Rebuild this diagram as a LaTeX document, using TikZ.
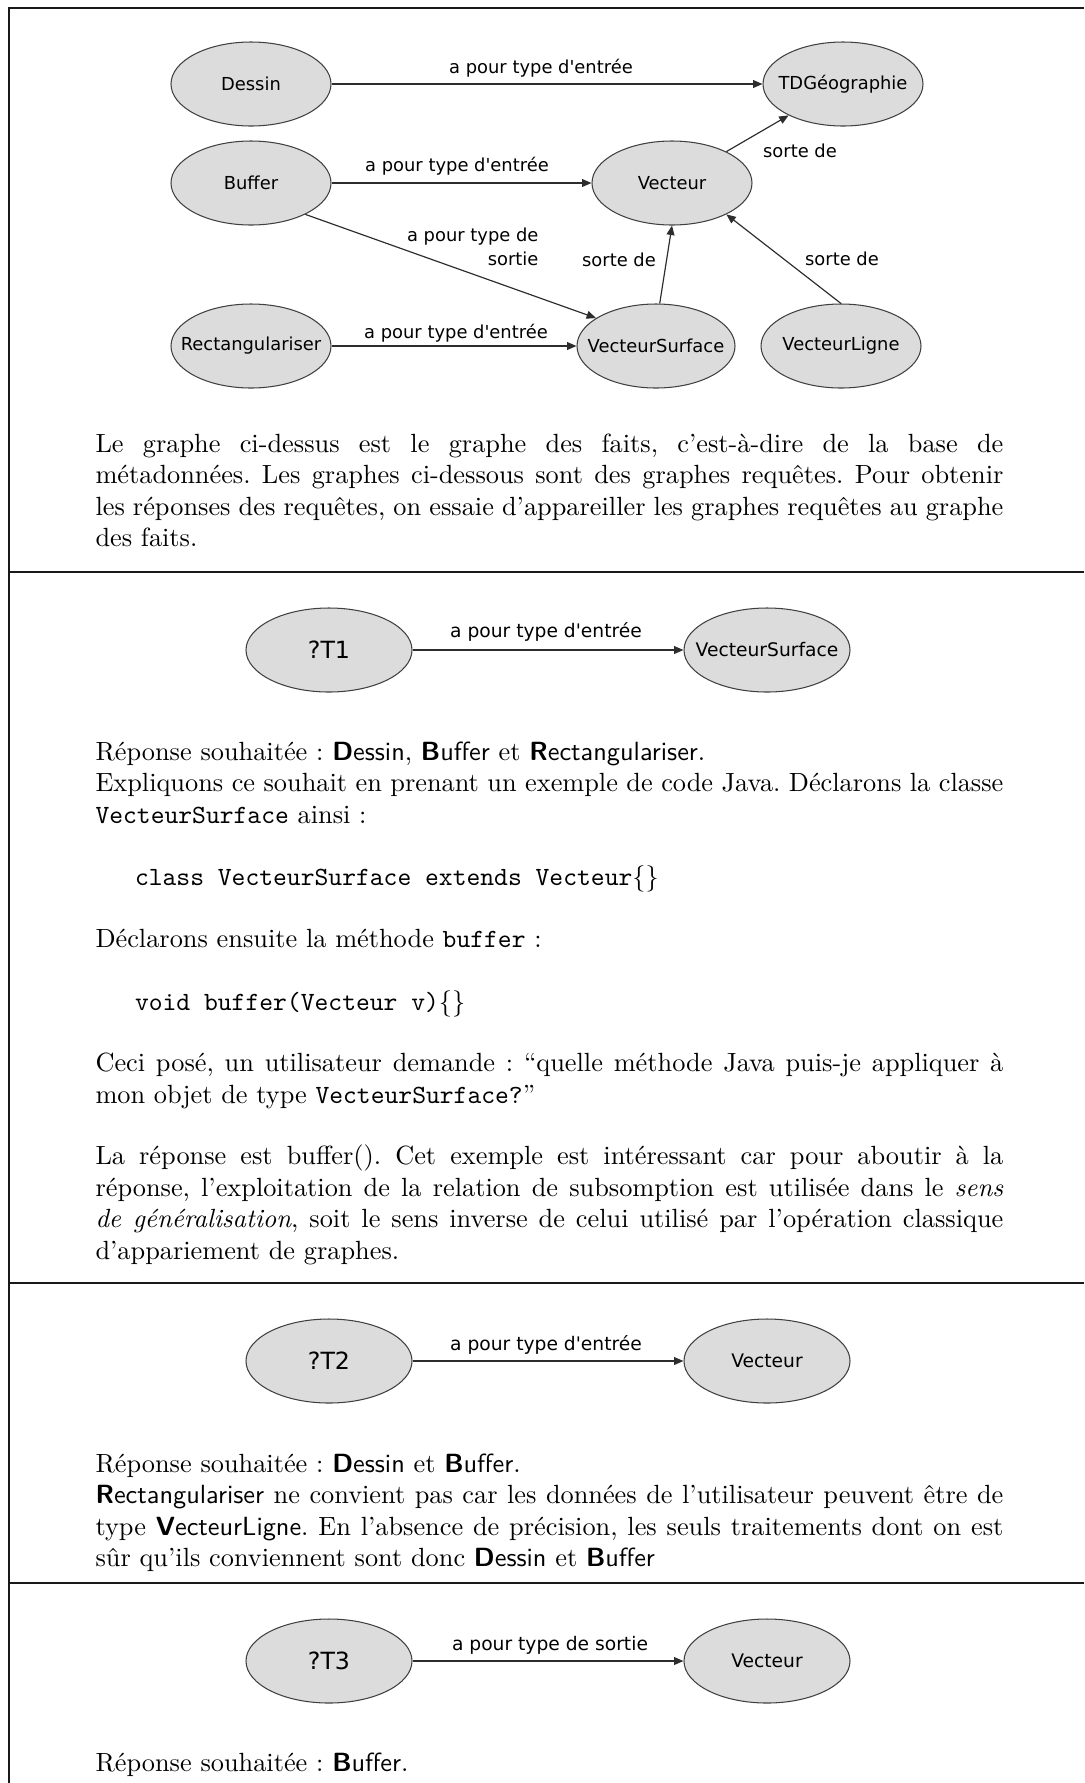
\documentclass[tikz,border=0pt]{standalone}
\usepackage{fontspec}
\newfontfamily\lbl{DejaVu Sans}
\usetikzlibrary{shapes.geometric,arrows.meta}
\definecolor{nodefill}{RGB}{220,220,220}
\definecolor{edgecol}{RGB}{45,45,45}
\newcommand{\jl}[1]{\makebox[345pt][s]{#1}}
\newcommand{\sfb}[2]{\textsf{\textbf{#1}#2}}
\newcommand{\lb}[1]{\makebox[0pt]{#1}}
\frenchspacing
\begin{document}
\frenchspacing
\begin{tikzpicture}[x=0.38pt,y=-0.38pt,
  fact/.style={ellipse, draw=black!75, fill=nodefill, line width=0.4pt,
    minimum width={160*0.38pt}, minimum height={84*0.38pt}, inner sep=0pt,
    font=\lbl\fontsize{6.8}{8}\selectfont},
  query/.style={fact, minimum width={166*0.38pt}, minimum height={84*0.38pt},
    font=\lbl\fontsize{7.1}{8.5}\selectfont},
  qvar/.style={query, font=\lbl\fontsize{9}{11}\selectfont},
  edge/.style={draw=edgecol, line width=0.45pt, -{Triangle[length=3.6pt,width=3pt]}},
  lab/.style={inner sep=0pt, font=\lbl\fontsize{6.8}{9.1}\selectfont},
  qlab/.style={inner sep=0pt, font=\lbl\fontsize{7.1}{8.5}\selectfont},
  rulestyle/.style={line width=0.76pt, draw=black!90},
  txt/.style={anchor=base west, inner sep=0pt}]
\useasboundingbox (0,0) rectangle (1084,1783);
% frame and separators
\draw[rulestyle] (8.5,1783) -- (8.5,7.5) -- (1084,7.5);
\draw[rulestyle] (8.5,572) -- (1084,572);
\draw[rulestyle] (8.5,1283) -- (1084,1283);
\draw[rulestyle] (8.5,1583) -- (1084,1583);
% ---- fact graph
\node[fact] (D) at (251,84) {\lb{Dessin}};
\node[fact] (T) at (843,84) {\lb{TDGéographie}};
\node[fact] (B) at (251,183) {\lb{Buffer}};
\node[fact] (V) at (672,183) {\lb{Vecteur}};
\node[fact] (R) at (251,346) {\lb{Rectangulariser}};
\node[fact, minimum width={158*0.38pt}] (S) at (656,346) {\lb{VecteurSurface}};
\node[fact] (L) at (841,346) {\lb{VecteurLigne}};
\draw[edge] (D) -- (T);
\draw[edge] (B) -- (V);
\draw[edge] (B.-30) -- (S.155);
\draw[edge] (R) -- (S);
\draw[edge] (S.85) -- (V.south);
\draw[edge] (L.north) -- (V.-30);
\draw[edge] (V.30) -- (T.-150);
\node[lab] (l1) at (541,68) {a pour type d'entrée};
\node[lab] (l2) at (457,166) {a pour type d'entrée};
\node[lab] (l3) at (456,333) {a pour type d'entrée};
\node[lab] (l4) at (800,151) {sorte de};
\node[lab] (l5) at (619,260) {sorte de};
\node[lab] (l6) at (842,259) {sorte de};
\node[lab, align=right, anchor=east] (l7) at (539,247) {a pour type de\\sortie};
% ---- section 1 text
\node[txt] (p1a) at (95,452) {\jl{Le graphe ci-dessus est le graphe des faits, c’est-à-dire de la base de}};
\node[txt] (p1b) at (95,483.6) {\jl{métadonnées. Les graphes ci-dessous sont des graphes requêtes. Pour obtenir}};
\node[txt] (p1c) at (95,515.2) {\jl{les réponses des requêtes, on essaie d’appareiller les graphes requêtes au graphe}};
\node[txt] (p1d) at (95,546.8) {des faits.};
% ---- section 2
\node[qvar] (Q1) at (329,650) {\lb{?T1}};
\node[query] (Q1S) at (767,650) {\lb{VecteurSurface}};
\draw[edge] (Q1) -- (Q1S);
\node[qlab] (q1l) at (546,632) {a pour type d'entrée};
\node[txt] (p2a) at (95,760) {Réponse souhaitée~: \sfb{D}{essin}, \sfb{B}{uffer} et \sfb{R}{ectangulariser}.};
\node[txt] (p2b) at (95,791.6) {\jl{Expliquons ce souhait en prenant un exemple de code Java. Déclarons la classe}};
\node[txt] (p2c) at (95,823.2) {\texttt{VecteurSurface} ainsi~:};
\node[txt] (p2d) at (134.5,885) {\texttt{class VecteurSurface extends Vecteur}$\{\}$};
\node[txt] (p2e) at (95,947) {Déclarons ensuite la méthode \texttt{buffer}~:};
\node[txt] (p2f) at (134.5,1010) {\texttt{void buffer(Vecteur v)}$\{\}$};
\node[txt] (p2g) at (95,1071.5) {\jl{Ceci posé, un utilisateur demande~: “quelle méthode Java puis-je appliquer à}};
\node[txt] (p2h) at (95,1103.1) {mon objet de type \texttt{VecteurSurface?}”};
\node[txt] (p2i) at (95,1164.5) {\jl{La réponse est buffer(). Cet exemple est intéressant car pour aboutir à la}};
\node[txt] (p2j) at (95,1196.1) {\jl{réponse, l’exploitation de la relation de subsomption est utilisée dans le \emph{sens}}};
\node[txt] (p2k) at (95,1227.7) {\jl{\emph{de généralisation}, soit le sens inverse de celui utilisé par l’opération classique}};
\node[txt] (p2l) at (95,1259.3) {d’appariement de graphes.};
% ---- section 3
\node[qvar] (Q2) at (329,1361) {\lb{?T2}};
\node[query] (Q2V) at (767,1361) {\lb{Vecteur}};
\draw[edge] (Q2) -- (Q2V);
\node[qlab] (q2l) at (546,1345) {a pour type d'entrée};
\node[txt] (p3a) at (95,1472) {Réponse souhaitée~: \sfb{D}{essin} et \sfb{B}{uffer}.};
\node[txt] (p3b) at (95,1503.6) {\jl{\sfb{R}{ectangulariser} ne convient pas car les données de l’utilisateur peuvent être de}};
\node[txt] (p3c) at (95,1535.2) {\jl{type \sfb{V}{ecteurLigne}. En l’absence de précision, les seuls traitements dont on est}};
\node[txt] (p3d) at (95,1566.8) {sûr qu’ils conviennent sont donc \sfb{D}{essin} et \sfb{B}{uffer}};
% ---- section 4
\node[qvar] (Q3) at (329,1661) {\lb{?T3}};
\node[query] (Q3V) at (767,1661) {\lb{Vecteur}};
\draw[edge] (Q3) -- (Q3V);
\node[qlab] (q3l) at (550,1645) {a pour type de sortie};
\node[txt] (p4a) at (95,1771) {Réponse souhaitée~: \sfb{B}{uffer}.};
\end{tikzpicture}
\end{document}
